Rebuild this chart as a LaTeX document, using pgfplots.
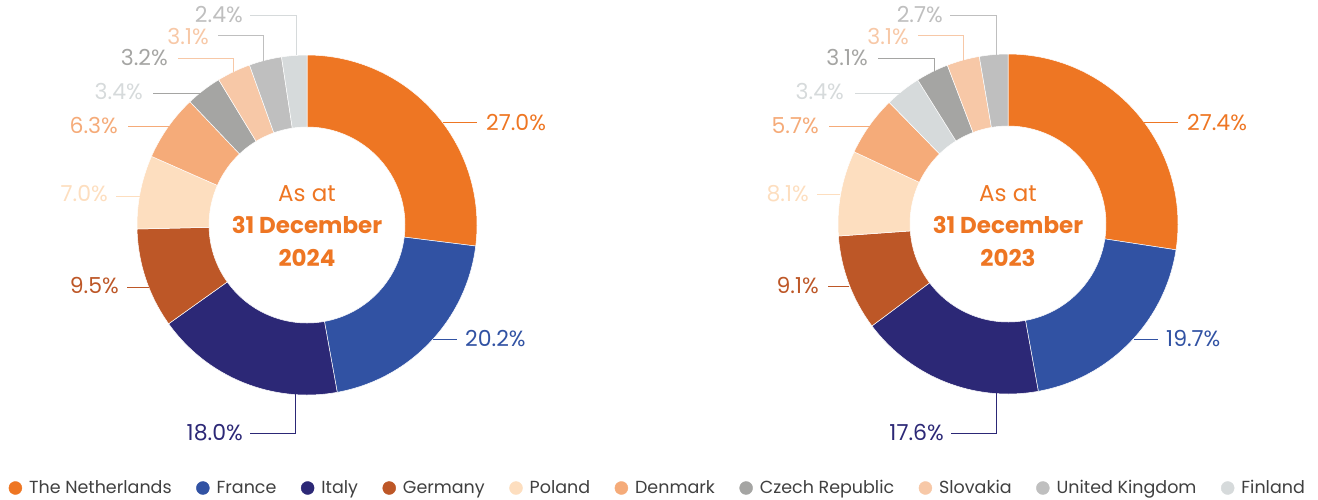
\documentclass[border=0pt]{standalone}
\usepackage{fontspec}
\setmainfont{Poppins}
\usepackage{pgfplots}
\usepackage{pgfplotstable}
\pgfplotsset{compat=1.18}
\usetikzlibrary{calc}

\definecolor{cNL}{HTML}{EE7623}
\definecolor{cFR}{HTML}{3152A3}
\definecolor{cIT}{HTML}{2C2876}
\definecolor{cDE}{HTML}{BD5727}
\definecolor{cPL}{HTML}{FDDEBF}
\definecolor{cDK}{HTML}{F5AB79}
\definecolor{cCZ}{HTML}{A5A5A3}
\definecolor{cSK}{HTML}{F7C8A7}
\definecolor{cUK}{HTML}{BFBFBF}
\definecolor{cFI}{HTML}{D6DADB}

% 2024, clockwise from the top
\pgfplotstableread{
name value color
NL 27.0 cNL
FR 20.2 cFR
IT 18.0 cIT
DE 9.5 cDE
PL 7.0 cPL
DK 6.3 cDK
CZ 3.4 cCZ
SK 3.2 cSK
UK 3.1 cUK
FI 2.4 cFI
}\dataA

% 2023, clockwise from the top
\pgfplotstableread{
name value color
NL 27.4 cNL
FR 19.7 cFR
IT 17.6 cIT
DE 9.1 cDE
PL 8.1 cPL
DK 5.7 cDK
FI 3.4 cFI
CZ 3.1 cCZ
SK 3.1 cSK
UK 2.7 cUK
}\dataB

\newcommand\donut[3]{%
  \pgfplotstablegetrowsof{#1}%
  \pgfmathtruncatemacro\nrows{\pgfplotsretval-1}%
  \def\total{0}%
  \pgfplotsforeachungrouped \i in {0,...,\nrows}{%
    \pgfplotstablegetelem{\i}{value}\of{#1}%
    \pgfmathsetmacro\total{\total+\pgfplotsretval}%
  }%
  \def\cum{0}%
  \pgfplotsforeachungrouped \i in {0,...,\nrows}{%
    \pgfplotstablegetelem{\i}{value}\of{#1}\let\val\pgfplotsretval
    \pgfplotstablegetelem{\i}{color}\of{#1}\let\col\pgfplotsretval
    \pgfmathsetmacro\aone{90-(\cum/\total)*360}%
    \pgfmathsetmacro\cum{\cum+\val}%
    \pgfmathsetmacro\atwo{90-(\cum/\total)*360}%
    \edef\cmd{\noexpand\fill[\col, draw=white, line width=0.5pt]
      (axis cs:#2,#3) ++(\aone:170pt) arc[start angle=\aone, end angle=\atwo, radius=170pt]
      -- ($(axis cs:#2,#3)+(\atwo:98pt)$) arc[start angle=\atwo, end angle=\aone, radius=98pt] -- cycle;}%
    \cmd
  }%
}

\begin{document}
\begin{tikzpicture}
\begin{axis}[
  scale only axis, width=1318pt, height=499pt,
  xmin=0, xmax=1318, ymin=0, ymax=499, y dir=reverse,
  hide axis, clip=false,
  legend columns=-1,
  legend style={at={(axis cs:8.5,488)}, anchor=west, draw=none, fill=none,
    inner sep=0pt, font=\fontsize{17.5}{19}\selectfont, text=black!75,
    /tikz/every odd column/.append style={column sep=5pt},
    /tikz/every even column/.append style={column sep=22.5pt}},
  legend image code/.code={\fill[#1] (6.5pt,0pt) circle[radius=6.5pt];},
]
\addlegendimage{cNL}\addlegendentry{The Netherlands}
\addlegendimage{cFR}\addlegendentry{France}
\addlegendimage{cIT}\addlegendentry{Italy}
\addlegendimage{cDE}\addlegendentry{Germany}
\addlegendimage{cPL}\addlegendentry{Poland}
\addlegendimage{cDK}\addlegendentry{Denmark}
\addlegendimage{cCZ}\addlegendentry{Czech Republic}
\addlegendimage{cSK}\addlegendentry{Slovakia}
\addlegendimage{cUK}\addlegendentry{United Kingdom}
\addlegendimage{cFI}\addlegendentry{Finland}

\donut{\dataA}{307}{225}
\donut{\dataB}{1008}{224}

\tikzset{lbl/.style={inner sep=0pt, font=\fontsize{22}{24}\selectfont}}

% ---- 2024 labels
\draw[cNL, line width=0.8pt] (axis cs:443,122) -- (axis cs:477,122);
\node[lbl, text=cNL, anchor=west] at (axis cs:486,123) {27.0\%};
\draw[cFR, line width=0.8pt] (axis cs:433,339) -- (axis cs:457,339);
\node[lbl, text=cFR, anchor=west] at (axis cs:465,339) {20.2\%};
\draw[cIT, line width=0.8pt] (axis cs:295,394) -- (axis cs:295,433) -- (axis cs:250,433);
\node[lbl, text=cIT, anchor=east] at (axis cs:243,433) {18.0\%};
\draw[cDE, line width=0.8pt] (axis cs:127,287) -- (axis cs:149,287);
\node[lbl, text=cDE, anchor=east] at (axis cs:119,286) {9.5\%};
\draw[cPL, line width=0.8pt] (axis cs:116,196) -- (axis cs:140,196);
\node[lbl, text=cPL, anchor=east] at (axis cs:108,194) {7.0\%};
\draw[cDK, line width=0.8pt] (axis cs:128,126) -- (axis cs:170,126);
\node[lbl, text=cDK, anchor=east] at (axis cs:118,126) {6.3\%};
\draw[cCZ, line width=0.8pt] (axis cs:153,93) -- (axis cs:202,93);
\node[lbl, text=cFI, anchor=east] at (axis cs:143,92) {3.4\%};
\draw[cSK, line width=0.8pt] (axis cs:178,58) -- (axis cs:233,58) -- (axis cs:233,72);
\node[lbl, text=cCZ, anchor=east] at (axis cs:168,58) {3.2\%};
\draw[cUK, line width=0.8pt] (axis cs:218,35) -- (axis cs:263,35) -- (axis cs:263,61);
\node[lbl, text=cSK, anchor=east] at (axis cs:209,37) {3.1\%};
\draw[cFI, line width=0.8pt] (axis cs:250,15) -- (axis cs:296,15) -- (axis cs:296,55);
\node[lbl, text=cUK, anchor=east] at (axis cs:243,15) {2.4\%};

% ---- 2023 labels
\draw[cNL, line width=0.8pt] (axis cs:1144,122) -- (axis cs:1178,122);
\node[lbl, text=cNL, anchor=west] at (axis cs:1187,123) {27.4\%};
\draw[cFR, line width=0.8pt] (axis cs:1134,339) -- (axis cs:1158,339);
\node[lbl, text=cFR, anchor=west] at (axis cs:1166,339) {19.7\%};
\draw[cIT, line width=0.8pt] (axis cs:996,392) -- (axis cs:996,433) -- (axis cs:951,433);
\node[lbl, text=cIT, anchor=east] at (axis cs:944,433) {17.6\%};
\draw[cDE, line width=0.8pt] (axis cs:828,286) -- (axis cs:849,286);
\node[lbl, text=cDE, anchor=east] at (axis cs:819,286) {9.1\%};
\draw[cPL, line width=0.8pt] (axis cs:817,194) -- (axis cs:840,194);
\node[lbl, text=cPL, anchor=east] at (axis cs:809,194) {8.1\%};
\draw[cDK, line width=0.8pt] (axis cs:829,126) -- (axis cs:871,126);
\node[lbl, text=cDK, anchor=east] at (axis cs:819,126) {5.7\%};
\draw[cFI, line width=0.8pt] (axis cs:855,93) -- (axis cs:902,93);
\node[lbl, text=cFI, anchor=east] at (axis cs:844,92) {3.4\%};
\draw[cCZ, line width=0.8pt] (axis cs:878,58) -- (axis cs:934,58) -- (axis cs:934,72);
\node[lbl, text=cCZ, anchor=east] at (axis cs:868,58) {3.1\%};
\draw[cSK, line width=0.8pt] (axis cs:918,35) -- (axis cs:963,35) -- (axis cs:963,62);
\node[lbl, text=cSK, anchor=east] at (axis cs:909,37) {3.1\%};
\draw[cUK, line width=0.8pt] (axis cs:950,15) -- (axis cs:996,15) -- (axis cs:996,55);
\node[lbl, text=cUK, anchor=east] at (axis cs:943,15) {2.7\%};

% ---- centre texts
\node[align=center, text=cNL, font=\fontsize{23}{32.5}\selectfont] at (axis cs:307,226)
  {As at\\ \textbf{31 December}\\ \textbf{2024}};
\node[align=center, text=cNL, font=\fontsize{23}{32.5}\selectfont] at (axis cs:1008,226)
  {As at\\ \textbf{31 December}\\ \textbf{2023}};
\end{axis}
\pgfresetboundingbox
\path[use as bounding box] (current axis.south west) rectangle (current axis.north east);
\end{tikzpicture}
\end{document}
